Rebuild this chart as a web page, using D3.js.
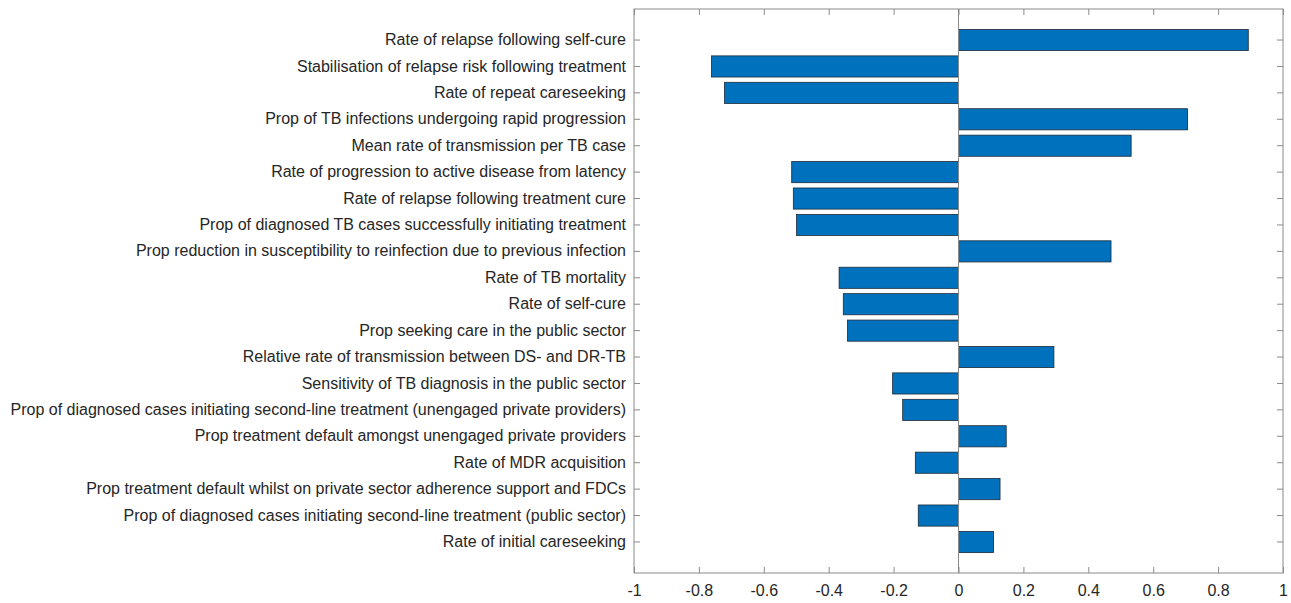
<!DOCTYPE html>
<html>
<head>
<meta charset="utf-8">
<script src="https://cdn.jsdelivr.net/npm/d3@7"></script>
<style>
  html, body { margin: 0; padding: 0; background: #fff; }
  svg text { font-family: "Liberation Sans", Arial, sans-serif; fill: #262626; }
</style>
</head>
<body>
<svg id="chart" width="1291" height="603"></svg>
<script>
// Parameters, top to bottom
const parameters = [
  "Rate of relapse following self-cure",
  "Stabilisation of relapse risk following treatment",
  "Rate of repeat careseeking",
  "Prop of TB infections undergoing rapid progression",
  "Mean rate of transmission per TB case",
  "Rate of progression to active disease from latency",
  "Rate of relapse following treatment cure",
  "Prop of diagnosed TB cases successfully initiating treatment",
  "Prop reduction in susceptibility to reinfection due to previous infection",
  "Rate of TB mortality",
  "Rate of self-cure",
  "Prop seeking care in the public sector",
  "Relative rate of transmission between DS- and DR-TB",
  "Sensitivity of TB diagnosis in the public sector",
  "Prop of diagnosed cases initiating second-line treatment (unengaged private providers)",
  "Prop treatment default amongst unengaged private providers",
  "Rate of MDR acquisition",
  "Prop treatment default whilst on private sector adherence support and FDCs",
  "Prop of diagnosed cases initiating second-line treatment (public sector)",
  "Rate of initial careseeking"
];

// Sensitivity coefficients
const coefficients = [
  0.893, -0.761, -0.721, 0.706, 0.532, -0.514, -0.509, -0.499, 0.470, -0.368,
  -0.355, -0.342, 0.294, -0.203, -0.172, 0.147, -0.133, 0.128, -0.124, 0.108
];

const xTickValues = [-1, -0.8, -0.6, -0.4, -0.2, 0, 0.2, 0.4, 0.6, 0.8, 1];

const box = { left: 634, right: 1283, top: 9, bottom: 573 };
const axisColor = "#8a8a8a";
const tickLen = 6;
const labelFont = "'Liberation Sans', Arial, sans-serif";

const svg = d3.select("#chart");

const x = d3.scaleLinear().domain([-1, 1]).range([box.left, box.right]);
const y = d3.scaleBand()
  .domain(parameters)
  .range([box.top, box.bottom])
  .paddingInner(0.2)
  .paddingOuter(0.775);

// Bars
svg.append("g").selectAll("rect")
  .data(parameters.map((p, i) => ({ p, v: coefficients[i] })))
  .join("rect")
  .attr("x", d => x(Math.min(0, d.v)))
  .attr("y", d => y(d.p))
  .attr("width", d => Math.abs(x(d.v) - x(0)))
  .attr("height", y.bandwidth())
  .attr("fill", "#0072BD")
  .attr("stroke", "#1a2a3a")
  .attr("stroke-width", 0.8);

// Baseline at zero
svg.append("line")
  .attr("x1", x(0)).attr("x2", x(0))
  .attr("y1", box.top).attr("y2", box.bottom)
  .attr("stroke", axisColor).attr("stroke-width", 1);

// Bottom axis (ticks point inward)
const gxb = svg.append("g")
  .attr("transform", `translate(0,${box.bottom})`)
  .call(d3.axisBottom(x)
    .tickValues(xTickValues)
    .tickSize(-tickLen)
    .tickPadding(12)
    .tickFormat(d => String(d)));
gxb.select(".domain").remove();
gxb.selectAll(".tick line").attr("stroke", axisColor);
gxb.selectAll(".tick text")
  .attr("font-size", 16)
  .style("font-family", labelFont)
  .attr("fill", "#262626");

// Top axis ticks, no labels
const gxt = svg.append("g")
  .attr("transform", `translate(0,${box.top})`)
  .call(d3.axisTop(x).tickValues(xTickValues).tickSize(-tickLen).tickFormat(""));
gxt.select(".domain").remove();
gxt.selectAll(".tick line").attr("stroke", axisColor);

// Left axis with category labels
const gyl = svg.append("g")
  .attr("transform", `translate(${box.left},0)`)
  .call(d3.axisLeft(y).tickSize(-tickLen).tickPadding(8));
gyl.select(".domain").remove();
gyl.selectAll(".tick line").attr("stroke", axisColor);
gyl.selectAll(".tick text")
  .attr("font-size", 16)
  .style("font-family", labelFont)
  .attr("fill", "#262626");

// Right axis ticks
const gyr = svg.append("g")
  .attr("transform", `translate(${box.right},0)`)
  .call(d3.axisRight(y).tickSize(-tickLen).tickFormat(""));
gyr.select(".domain").remove();
gyr.selectAll(".tick line").attr("stroke", axisColor);

// Axes box
svg.append("rect")
  .attr("x", box.left).attr("y", box.top)
  .attr("width", box.right - box.left)
  .attr("height", box.bottom - box.top)
  .attr("fill", "none")
  .attr("stroke", axisColor)
  .attr("stroke-width", 1);
</script>
</body>
</html>
